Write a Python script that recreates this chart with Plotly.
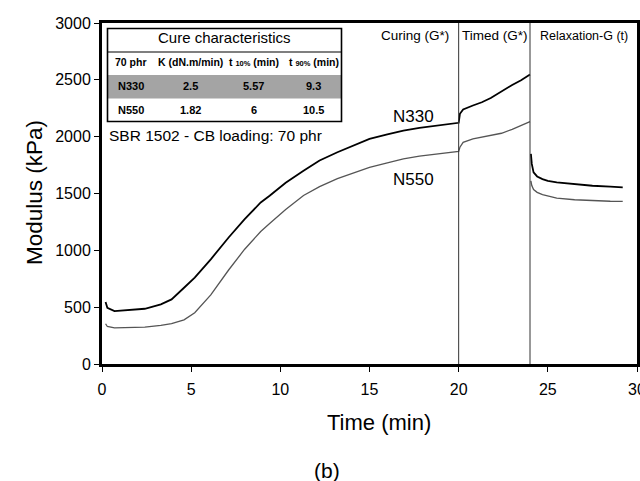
import plotly.graph_objects as go

# ---------------- data ----------------
t_cure = [0.2, 0.3, 0.7, 1.4, 2.4, 3.3, 3.9, 4.6, 5.2, 6.1, 7.1, 8.0, 8.9, 9.4, 10.3,
          11.3, 12.2, 13.2, 14.1, 15.0, 16.0, 16.9, 17.8, 18.8, 19.8, 20.0]
n330_cure = [545, 495, 465, 471, 486, 524, 568, 671, 760, 921, 1113, 1274, 1421, 1480, 1595,
             1700, 1790, 1863, 1925, 1980, 2020, 2053, 2077, 2097, 2119, 2122]
n550_cure = [354, 330, 318, 319, 325, 339, 355, 388, 451, 608, 827, 1010, 1166, 1236, 1360,
             1482, 1560, 1630, 1683, 1730, 1770, 1804, 1828, 1849, 1868, 1870]

t_timed = [20.0, 20.07, 20.25, 20.8, 21.3, 21.8, 22.4, 23.0, 23.5, 24.0]
n330_timed = [2112, 2201, 2239, 2274, 2303, 2340, 2400, 2455, 2497, 2547]
n550_timed = [1863, 1907, 1950, 1980, 1995, 2008, 2030, 2065, 2097, 2133]

t_relax = [24.05, 24.1, 24.2, 24.4, 24.7, 25.0, 25.5, 26.5, 27.5, 28.5, 29.2]
n330_relax = [1848, 1760, 1686, 1650, 1627, 1612, 1598, 1580, 1568, 1560, 1554]
n550_relax = [1612, 1570, 1535, 1510, 1490, 1478, 1459, 1445, 1436, 1432, 1430]

stage_bounds = [20, 24]
stage_labels = ["Curing (G*)", "Timed (G*)", "Relaxation-G (t)"]
series_names = ["N330", "N550"]

x_ticks = [0, 5, 10, 15, 20, 25, 30]
y_ticks = [0, 500, 1000, 1500, 2000, 2500, 3000]

table_title = "Cure characteristics"
table_header = ["70 phr", "K (dN.m/min)", "t <span style='font-size:7.5px'>10%</span> (min)",
                "t <span style='font-size:7.5px'>90%</span> (min)"]
table_compound = ["N330", "N550"]
table_K = ["2.5", "1.82"]
table_t10 = ["5.57", "6"]
table_t90 = ["9.3", "10.5"]
note_text = "SBR 1502 - CB loading: 70 phr"

# ---------------- figure ----------------
W, H = 640, 481
L, R, T, B = 102, 637, 23, 364
FONT = "Liberation Sans, Arial, sans-serif"


def px(x):
    return (x - L) / (R - L)


def py(y):
    return (B - y) / (B - T)


fig = go.Figure()

colors = ["#000000", "#555555"]
widths = [1.8, 1.3]
n330_all = n330_cure + n330_timed[1:] + [None] + n330_relax
n550_all = n550_cure + n550_timed[1:] + [None] + n550_relax
t_all = t_cure + t_timed[1:] + [24.02] + t_relax
for name, vals, c, w in zip(series_names, [n330_all, n550_all], colors, widths):
    fig.add_trace(go.Scatter(x=t_all, y=vals, mode="lines", name=name,
                             line=dict(color=c, width=w), connectgaps=False,
                             showlegend=False))

shapes = []
for xb in stage_bounds:
    shapes.append(dict(type="line", xref="x", yref="paper", x0=xb, x1=xb, y0=0, y1=1,
                       line=dict(color="#333333", width=1)))

# table geometry (pixels)
tx0, tx1 = 107.5, 341.5
ty_top, ty_title, ty_head, ty_r1, ty_bot = 28.5, 52, 75, 98.5, 121.5
shapes.append(dict(type="rect", xref="paper", yref="paper", x0=px(tx0), x1=px(tx1),
                   y0=py(ty_r1), y1=py(ty_head), fillcolor="#a4a4a4",
                   line=dict(width=0), layer="above"))
shapes.append(dict(type="rect", xref="paper", yref="paper", x0=px(tx0), x1=px(tx1),
                   y0=py(ty_bot), y1=py(ty_top), line=dict(color="black", width=1.6),
                   layer="above"))
shapes.append(dict(type="line", xref="paper", yref="paper", x0=px(tx0), x1=px(tx1),
                   y0=py(ty_title), y1=py(ty_title), line=dict(color="black", width=1.2),
                   layer="above"))

ann = []


def add_text(text, x, y, size, xanchor="center", angle=0, bold=False):
    if bold:
        text = "<b>" + text + "</b>"
    ann.append(dict(text=text, x=px(x), y=py(y), xref="paper", yref="paper",
                    xanchor=xanchor, yanchor="middle", showarrow=False,
                    textangle=angle, font=dict(family=FONT, size=size, color="black")))


col_x = [130.5, 190.5, 253.5, 313.5]
add_text(table_title, (tx0 + tx1) / 2, 37.5, 15)
for cx, h in zip(col_x, table_header):
    add_text(h, cx, 62, 10.5, bold=True)
for i, ry in enumerate([86.5, 109.5]):
    for cx, v in zip(col_x, [table_compound[i], table_K[i], table_t10[i], table_t90[i]]):
        add_text(v, cx, ry, 11, bold=True)
add_text(note_text, 106.5, 135, 15.5, xanchor="left")

# series labels
add_text(series_names[0], 413, 117, 17)
add_text(series_names[1], 413, 179, 17)

# stage labels
add_text(stage_labels[0], 451, 36, 13.5, xanchor="right")
add_text(stage_labels[1], 459.5, 36, 13.5, xanchor="left")
add_text(stage_labels[2], 538, 36, 12.5, xanchor="left")

# axis titles
add_text("Time (min)", 379, 422, 22)
add_text("Modulus (kPa)", 34, 193, 22.5, angle=-90)
add_text("(b)", 326.5, 470, 21)

axis_common = dict(showline=True, linecolor="black", linewidth=3, mirror=True,
                   showgrid=False, zeroline=False, ticks="outside", ticklen=5,
                   tickwidth=1, tickcolor="black", automargin=False,
                   ticklabeloverflow="allow",
                   tickfont=dict(family=FONT, size=16, color="black"))

fig.update_layout(
    width=W, height=H,
    margin=dict(l=L, r=W - R, t=T, b=H - B, pad=0),
    paper_bgcolor="white", plot_bgcolor="white",
    xaxis=dict(range=[0, 30], tickvals=x_ticks, ticklabelstandoff=4, **axis_common),
    yaxis=dict(range=[0, 3000], tickvals=y_ticks, **axis_common),
    shapes=shapes, annotations=ann, showlegend=False,
    font=dict(family=FONT),
)

fig.write_html("out.html", config={"displayModeBar": False},
               post_script="document.body.style.margin='0px';document.body.style.overflow='hidden';")
